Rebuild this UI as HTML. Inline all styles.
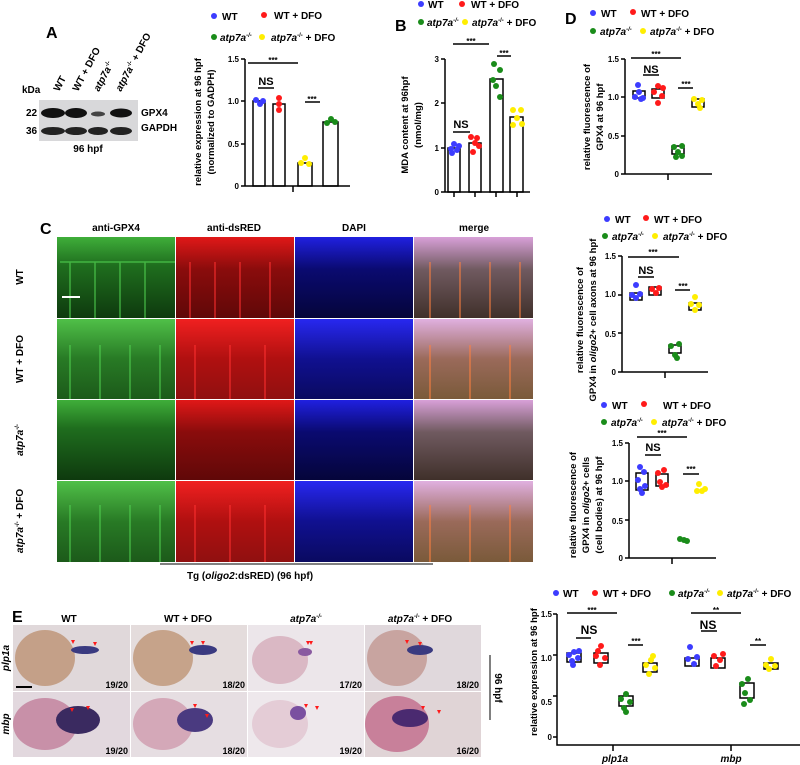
<!DOCTYPE html>
<html><head><meta charset="utf-8"><style>
body{margin:0;background:#fff}
svg{display:block;font-family:"Liberation Sans",Arial,sans-serif;font-weight:bold}
.t{font-size:10px}.s{font-size:8px}.L{font-size:16px}
</style></head><body>
<svg width="800" height="765" viewBox="0 0 800 765">
<defs>
<linearGradient id="gG" x1="0" y1="0" x2="0" y2="1"><stop offset="0" stop-color="#3fae3a"/><stop offset=".35" stop-color="#1f6e1e"/><stop offset="1" stop-color="#0e3a0e"/></linearGradient>
<linearGradient id="gR" x1="0" y1="0" x2="0" y2="1"><stop offset="0" stop-color="#e01818"/><stop offset=".4" stop-color="#8a0c0c"/><stop offset="1" stop-color="#600808"/></linearGradient>
<linearGradient id="gB" x1="0" y1="0" x2="0" y2="1"><stop offset="0" stop-color="#2020e0"/><stop offset=".4" stop-color="#0a0a70"/><stop offset="1" stop-color="#05053a"/></linearGradient>
<linearGradient id="gM" x1="0" y1="0" x2="0" y2="1"><stop offset="0" stop-color="#d8a0d8"/><stop offset=".4" stop-color="#705a60"/><stop offset="1" stop-color="#40302a"/></linearGradient>
<linearGradient id="gG2" x1="0" y1="0" x2="0" y2="1"><stop offset="0" stop-color="#50c048"/><stop offset=".5" stop-color="#287a25"/><stop offset="1" stop-color="#1c5a1a"/></linearGradient>
<linearGradient id="gR2" x1="0" y1="0" x2="0" y2="1"><stop offset="0" stop-color="#f02020"/><stop offset=".5" stop-color="#b01010"/><stop offset="1" stop-color="#901010"/></linearGradient>
<linearGradient id="gB2" x1="0" y1="0" x2="0" y2="1"><stop offset="0" stop-color="#2828f0"/><stop offset=".5" stop-color="#101090"/><stop offset="1" stop-color="#0a0a60"/></linearGradient>
<linearGradient id="gM2" x1="0" y1="0" x2="0" y2="1"><stop offset="0" stop-color="#e0b0e0"/><stop offset=".5" stop-color="#9a6a5a"/><stop offset="1" stop-color="#7a5a3a"/></linearGradient>
</defs>

<!-- Panel A western -->
<text x="46" y="38" class="L">A</text>
<text x="22" y="93" class="t">kDa</text>
<g class="t">
<text transform="translate(59,92) rotate(-62)">WT</text>
<text transform="translate(78,92) rotate(-62)">WT + DFO</text>
<text transform="translate(99,92) rotate(-62)"><tspan font-style="italic">atp7a</tspan><tspan font-size="6" dy="-4">-/-</tspan></text>
<text transform="translate(121,92) rotate(-62)"><tspan font-style="italic">atp7a</tspan><tspan font-size="6" dy="-4">-/-</tspan><tspan dy="4"> + DFO</tspan></text>
</g>
<rect x="39" y="100" width="99" height="41" fill="#d8d8da"/>
<ellipse cx="53" cy="113" rx="12" ry="5" fill="#111"/><ellipse cx="76" cy="113" rx="11" ry="5" fill="#111"/><ellipse cx="98" cy="114" rx="7" ry="2.5" fill="#444"/><ellipse cx="121" cy="113" rx="11" ry="4.5" fill="#111"/>
<ellipse cx="53" cy="131" rx="12" ry="4" fill="#222"/><ellipse cx="76" cy="131" rx="11" ry="4" fill="#222"/><ellipse cx="98" cy="131" rx="10" ry="4" fill="#222"/><ellipse cx="121" cy="131" rx="11" ry="4" fill="#222"/>
<text x="26" y="116" class="t">22</text><text x="26" y="134" class="t">36</text>
<text x="141" y="116" class="t">GPX4</text><text x="141" y="131" class="t">GAPDH</text>
<text x="88" y="152" class="t" text-anchor="middle">96 hpf</text>

<!-- Chart A -->
<g class="t">
<circle cx="214" cy="16" r="3" fill="#3c3cff"/><text x="222" y="20">WT</text>
<circle cx="264" cy="15" r="3" fill="#ff1a1a"/><text x="274" y="19">WT + DFO</text>
<circle cx="214" cy="37" r="3" fill="#1a8c1a"/><text x="220" y="41" font-style="italic">atp7a<tspan font-size="6" dy="-4">-/-</tspan></text>
<circle cx="262" cy="37" r="3" fill="#ffee00"/><text x="271" y="41"><tspan font-style="italic">atp7a</tspan><tspan font-size="6" dy="-4">-/-</tspan><tspan dy="4"> + DFO</tspan></text>
<text transform="translate(201,122) rotate(-90)" text-anchor="middle" font-size="9.5">relative expression at 96 hpf</text>
<text transform="translate(214,122) rotate(-90)" text-anchor="middle" font-size="9.5">(normalized to GADPH)</text>
</g>
<g class="s" text-anchor="end"><text x="239" y="62">1.5</text><text x="239" y="104">1.0</text><text x="239" y="147">0.5</text><text x="239" y="189">0</text></g>
<g stroke="#000" stroke-width="1.5" fill="none">
<path d="M245 59V186H350M241 59H245M241 101H245M241 144H245M241 186H245M293 186V192"/>
<rect x="253" y="101" width="12" height="85"/><rect x="273" y="104" width="12" height="82"/><rect x="298" y="163" width="14" height="23"/><rect x="323" y="122" width="15" height="64"/>
<path d="M248 63H298M258 88H274M305 102H320"/>
</g>
<text x="266" y="85" text-anchor="middle" font-size="11">NS</text>
<text x="273" y="63" text-anchor="middle" class="s">***</text><text x="312" y="102" text-anchor="middle" class="s">***</text>
<g fill="#3c3cff"><circle cx="256" cy="100" r="3"/><circle cx="260" cy="104" r="3"/><circle cx="263" cy="101" r="3"/></g>
<g fill="#ff1a1a"><circle cx="279" cy="98" r="3"/><circle cx="279" cy="104" r="3"/><circle cx="279" cy="110" r="3"/></g>
<g fill="#ffee00"><circle cx="301" cy="163" r="3"/><circle cx="305" cy="158" r="3"/><circle cx="309" cy="164" r="3"/></g>
<g fill="#1a8c1a"><circle cx="327" cy="123" r="3"/><circle cx="331" cy="119" r="3"/><circle cx="335" cy="122" r="3"/></g>

<!-- Chart B -->
<text x="395" y="31" class="L">B</text>
<g class="t">
<circle cx="421" cy="4" r="3" fill="#3c3cff"/><text x="428" y="8">WT</text>
<circle cx="462" cy="4" r="3" fill="#ff1a1a"/><text x="471" y="8">WT + DFO</text>
<circle cx="421" cy="22" r="3" fill="#1a8c1a"/><text x="427" y="26" font-style="italic">atp7a<tspan font-size="6" dy="-4">-/-</tspan></text>
<circle cx="465" cy="22" r="3" fill="#ffee00"/><text x="472" y="26"><tspan font-style="italic">atp7a</tspan><tspan font-size="6" dy="-4">-/-</tspan><tspan dy="4"> + DFO</tspan></text>
<text transform="translate(408,125) rotate(-90)" text-anchor="middle" font-size="9.5">MDA content at 96hpf</text>
<text transform="translate(421,125) rotate(-90)" text-anchor="middle" font-size="9.5">(nmol/mg)</text>
</g>
<g class="s" text-anchor="end"><text x="439" y="62">3</text><text x="439" y="106">2</text><text x="439" y="151">1</text><text x="439" y="195">0</text></g>
<g stroke="#000" stroke-width="1.5" fill="none">
<path d="M445 59V192H530M441 59H445M441 103H445M441 148H445M441 192H445M454 192V197M475 192V197M496 192V197M517 192V197"/>
<rect x="448" y="148" width="12" height="44"/><rect x="469" y="143" width="12" height="49"/><rect x="490" y="79" width="13" height="113"/><rect x="510" y="117" width="13" height="75"/>
<path d="M453 132H470M453 44H489M497 56H511"/>
</g>
<text x="461" y="128" text-anchor="middle" font-size="11">NS</text>
<text x="471" y="44" text-anchor="middle" class="s">***</text><text x="504" y="56" text-anchor="middle" class="s">***</text>
<g fill="#3c3cff"><circle cx="451" cy="149" r="3"/><circle cx="454" cy="144" r="3"/><circle cx="457" cy="150" r="3"/><circle cx="459" cy="146" r="3"/><circle cx="452" cy="153" r="3"/></g>
<g fill="#ff1a1a"><circle cx="471" cy="137" r="3"/><circle cx="477" cy="138" r="3"/><circle cx="475" cy="143" r="3"/><circle cx="473" cy="152" r="3"/><circle cx="479" cy="146" r="3"/></g>
<g fill="#1a8c1a"><circle cx="494" cy="64" r="3"/><circle cx="500" cy="70" r="3"/><circle cx="496" cy="86" r="3"/><circle cx="500" cy="97" r="3"/><circle cx="493" cy="80" r="3"/></g>
<g fill="#ffee00"><circle cx="513" cy="110" r="3"/><circle cx="521" cy="110" r="3"/><circle cx="517" cy="118" r="3"/><circle cx="513" cy="125" r="3"/><circle cx="522" cy="124" r="3"/></g>

<!-- Panel C -->
<text x="40" y="234" class="L">C</text>
<g class="t" text-anchor="middle"><text x="116" y="231">anti-GPX4</text><text x="234" y="231">anti-dsRED</text><text x="354" y="231">DAPI</text><text x="474" y="231">merge</text></g>
<g>
<rect x="57" y="237" width="118" height="81" fill="url(#gG)"/><rect x="176" y="237" width="118" height="81" fill="url(#gR)"/><rect x="295" y="237" width="118" height="81" fill="url(#gB)"/><rect x="414" y="237" width="119" height="81" fill="url(#gM)"/>
<rect x="57" y="319" width="118" height="80" fill="url(#gG2)"/><rect x="176" y="319" width="118" height="80" fill="url(#gR2)"/><rect x="295" y="319" width="118" height="80" fill="url(#gB2)"/><rect x="414" y="319" width="119" height="80" fill="url(#gM2)"/>
<rect x="57" y="400" width="118" height="80" fill="url(#gG)"/><rect x="176" y="400" width="118" height="80" fill="url(#gR)"/><rect x="295" y="400" width="118" height="80" fill="url(#gB)"/><rect x="414" y="400" width="119" height="80" fill="url(#gM)"/>
<rect x="57" y="481" width="118" height="81" fill="url(#gG2)"/><rect x="176" y="481" width="118" height="81" fill="url(#gR2)"/><rect x="295" y="481" width="118" height="81" fill="url(#gB2)"/><rect x="414" y="481" width="119" height="81" fill="url(#gM2)"/>
<g stroke-width="1.5" opacity=".7" fill="none">
<path stroke="#50d050" d="M70 262V318M95 262V318M120 262V318M145 262V318M60 262H175M70 345V399M100 345V399M130 345V399M160 345V399M70 505V562M100 505V562M130 505V562M160 505V562"/>
<path stroke="#ff3030" d="M190 262V318M215 262V318M240 262V318M270 262V318M195 345V399M230 345V399M265 345V399M195 505V562M230 505V562M265 505V562"/>
<path stroke="#ff8040" d="M430 262V318M460 262V318M490 262V318M520 262V318M430 345V399M470 345V399M510 345V399M430 505V562M470 505V562M510 505V562"/>
</g>
<path d="M62 297H80" stroke="#fff" stroke-width="2"/>
</g>
<g class="t" text-anchor="middle">
<text transform="translate(23,277) rotate(-90)">WT</text>
<text transform="translate(23,359) rotate(-90)">WT + DFO</text>
<text transform="translate(23,440) rotate(-90)"><tspan font-style="italic">atp7a</tspan><tspan font-size="6" dy="-4">-/-</tspan></text>
<text transform="translate(23,521) rotate(-90)"><tspan font-style="italic">atp7a</tspan><tspan font-size="6" dy="-4">-/-</tspan><tspan dy="4"> + DFO</tspan></text>
</g>
<path d="M160 564H433" stroke="#000" stroke-width="1"/>
<text x="250" y="579" class="t" text-anchor="middle">Tg (<tspan font-style="italic">oligo2</tspan>:dsRED) (96 hpf)</text>

<!-- Panel D charts -->
<text x="565" y="24" class="L">D</text>
<g class="t">
<circle cx="593" cy="13" r="3" fill="#3c3cff"/><text x="601" y="17">WT</text>
<circle cx="633" cy="12" r="3" fill="#ff1a1a"/><text x="641" y="17">WT + DFO</text>
<circle cx="593" cy="31" r="3" fill="#1a8c1a"/><text x="600" y="35" font-style="italic">atp7a<tspan font-size="6" dy="-4">-/-</tspan></text>
<circle cx="643" cy="31" r="3" fill="#ffee00"/><text x="650" y="35"><tspan font-style="italic">atp7a</tspan><tspan font-size="6" dy="-4">-/-</tspan><tspan dy="4"> + DFO</tspan></text>
<text transform="translate(590,117) rotate(-90)" text-anchor="middle" font-size="9.5">relative fluorescence of</text>
<text transform="translate(603,117) rotate(-90)" text-anchor="middle" font-size="9.5">GPX4 at 96 hpf</text>
</g>
<g class="s" text-anchor="end"><text x="619" y="62">1.5</text><text x="619" y="100">1.0</text><text x="619" y="139">0.5</text><text x="619" y="177">0</text></g>
<g stroke="#000" stroke-width="1.5" fill="none"><path d="M625 59V174H712M621 59H625M621 97H625M621 136H625M621 174H625M668 174V180M631 58H681M643 75H659M678 88H693"/>
<rect x="633" y="91" width="12" height="7"/><rect x="652" y="89" width="12" height="9"/><rect x="672" y="146" width="12" height="8"/><rect x="692" y="99" width="12" height="8"/></g>
<text x="651" y="73" text-anchor="middle" font-size="11">NS</text><text x="656" y="57" text-anchor="middle" class="s">***</text><text x="686" y="87" text-anchor="middle" class="s">***</text>
<g fill="#3c3cff"><circle cx="635" cy="97" r="3"/><circle cx="639" cy="92" r="3"/><circle cx="643" cy="98" r="3"/><circle cx="638" cy="85" r="3"/><circle cx="641" cy="99" r="3"/></g>
<g fill="#ff1a1a"><circle cx="654" cy="92" r="3"/><circle cx="658" cy="86" r="3"/><circle cx="662" cy="96" r="3"/><circle cx="658" cy="103" r="3"/><circle cx="663" cy="88" r="3"/></g>
<g fill="#1a8c1a"><circle cx="674" cy="147" r="3"/><circle cx="678" cy="152" r="3"/><circle cx="682" cy="146" r="3"/><circle cx="676" cy="157" r="3"/><circle cx="682" cy="156" r="3"/></g>
<g fill="#ffee00"><circle cx="694" cy="99" r="3"/><circle cx="698" cy="104" r="3"/><circle cx="702" cy="100" r="3"/><circle cx="700" cy="108" r="3"/></g>

<!-- D2 -->
<g class="t">
<circle cx="607" cy="219" r="3" fill="#3c3cff"/><text x="615" y="223">WT</text>
<circle cx="646" cy="218" r="3" fill="#ff1a1a"/><text x="654" y="223">WT + DFO</text>
<circle cx="605" cy="236" r="3" fill="#1a8c1a"/><text x="612" y="240" font-style="italic">atp7a<tspan font-size="6" dy="-4">-/-</tspan></text>
<circle cx="655" cy="236" r="3" fill="#ffee00"/><text x="663" y="240"><tspan font-style="italic">atp7a</tspan><tspan font-size="6" dy="-4">-/-</tspan><tspan dy="4"> + DFO</tspan></text>
<text transform="translate(583,320) rotate(-90)" text-anchor="middle" font-size="9.5">relative fluorescence of</text>
<text transform="translate(596,320) rotate(-90)" text-anchor="middle" font-size="9.5">GPX4 in <tspan font-style="italic">oligo2</tspan>+ cell axons at 96 hpf</text>
</g>
<g class="s" text-anchor="end"><text x="616" y="259">1.5</text><text x="616" y="297">1.0</text><text x="616" y="337">0.5</text><text x="616" y="375">0</text></g>
<g stroke="#000" stroke-width="1.5" fill="none"><path d="M622 256V372H708M618 256H622M618 295H622M618 333H622M618 372H622M665 372V378M628 257H679M638 277H654M675 290H690"/>
<rect x="630" y="293" width="12" height="7"/><rect x="649" y="287" width="12" height="8"/><rect x="669" y="345" width="12" height="8"/><rect x="689" y="303" width="12" height="7"/></g>
<text x="646" y="274" text-anchor="middle" font-size="11">NS</text><text x="653" y="255" text-anchor="middle" class="s">***</text><text x="683" y="289" text-anchor="middle" class="s">***</text>
<g fill="#3c3cff"><circle cx="632" cy="295" r="3"/><circle cx="636" cy="298" r="3"/><circle cx="640" cy="294" r="3"/><circle cx="636" cy="285" r="3"/></g>
<g fill="#ff1a1a"><circle cx="652" cy="289" r="3"/><circle cx="656" cy="293" r="3"/><circle cx="659" cy="288" r="3"/></g>
<g fill="#1a8c1a"><circle cx="671" cy="346" r="3"/><circle cx="675" cy="355" r="3"/><circle cx="679" cy="344" r="3"/><circle cx="677" cy="358" r="3"/></g>
<g fill="#ffee00"><circle cx="691" cy="304" r="3"/><circle cx="695" cy="297" r="3"/><circle cx="699" cy="305" r="3"/><circle cx="695" cy="310" r="3"/></g>

<!-- D3 -->
<g class="t">
<circle cx="604" cy="405" r="3" fill="#3c3cff"/><text x="612" y="409">WT</text>
<circle cx="644" cy="404" r="3" fill="#ff1a1a"/><text x="663" y="409">WT + DFO</text>
<circle cx="604" cy="422" r="3" fill="#1a8c1a"/><text x="611" y="426" font-style="italic">atp7a<tspan font-size="6" dy="-4">-/-</tspan></text>
<circle cx="654" cy="422" r="3" fill="#ffee00"/><text x="662" y="426"><tspan font-style="italic">atp7a</tspan><tspan font-size="6" dy="-4">-/-</tspan><tspan dy="4"> + DFO</tspan></text>
<text transform="translate(576,505) rotate(-90)" text-anchor="middle" font-size="9.5">relative fluorescence of</text>
<text transform="translate(589,505) rotate(-90)" text-anchor="middle" font-size="9.5">GPX4 in <tspan font-style="italic">oligo2</tspan>+ cells</text>
<text transform="translate(602,505) rotate(-90)" text-anchor="middle" font-size="9.5">(cell bodies) at 96 hpf</text>
</g>
<g class="s" text-anchor="end"><text x="623" y="446">1.5</text><text x="623" y="484">1.0</text><text x="623" y="524">0.5</text><text x="623" y="561">0</text></g>
<g stroke="#000" stroke-width="1.5" fill="none"><path d="M629 443V558H716M625 443H629M625 481H629M625 520H629M625 558H629M672 558V564M637 437H687M645 455H661M683 474H699"/>
<rect x="636" y="473" width="12" height="17"/><rect x="656" y="474" width="12" height="12"/></g>
<text x="653" y="451" text-anchor="middle" font-size="11">NS</text><text x="662" y="436" text-anchor="middle" class="s">***</text><text x="691" y="472" text-anchor="middle" class="s">***</text>
<g fill="#3c3cff"><circle cx="640" cy="467" r="3"/><circle cx="644" cy="472" r="3"/><circle cx="638" cy="480" r="3"/><circle cx="645" cy="486" r="3"/><circle cx="642" cy="493" r="3"/><circle cx="640" cy="489" r="3"/></g>
<g fill="#ff1a1a"><circle cx="658" cy="473" r="3"/><circle cx="664" cy="470" r="3"/><circle cx="660" cy="482" r="3"/><circle cx="666" cy="485" r="3"/><circle cx="662" cy="487" r="3"/></g>
<g fill="#1a8c1a"><circle cx="680" cy="539" r="3"/><circle cx="684" cy="540" r="3"/><circle cx="687" cy="541" r="3"/></g>
<g fill="#ffee00"><circle cx="699" cy="484" r="3"/><circle cx="697" cy="491" r="3"/><circle cx="702" cy="491" r="3"/><circle cx="705" cy="489" r="3"/></g>

<!-- Panel E images -->
<text x="12" y="622" class="L">E</text>
<g class="t" text-anchor="middle"><text x="69" y="622">WT</text><text x="188" y="622">WT + DFO</text><text x="306" y="622" font-style="italic">atp7a<tspan font-size="6" dy="-4">-/-</tspan></text><text x="420" y="622"><tspan font-style="italic">atp7a</tspan><tspan font-size="6" dy="-4">-/-</tspan><tspan dy="4"> + DFO</tspan></text></g>
<g>
<rect x="13" y="625" width="117" height="66" fill="#e0d8da"/><rect x="131" y="625" width="116" height="66" fill="#e4dcdc"/><rect x="248" y="625" width="116" height="66" fill="#ece6ea"/><rect x="365" y="625" width="116" height="66" fill="#e0d8dc"/>
<rect x="13" y="692" width="117" height="65" fill="#e2d8de"/><rect x="131" y="692" width="116" height="65" fill="#e6dee2"/><rect x="248" y="692" width="116" height="65" fill="#eee8ec"/><rect x="365" y="692" width="116" height="65" fill="#e0d4d6"/>
<ellipse cx="45" cy="658" rx="30" ry="28" fill="#c4a088"/><ellipse cx="163" cy="658" rx="30" ry="28" fill="#c6a38a"/><ellipse cx="280" cy="660" rx="28" ry="24" fill="#dab8c4"/><ellipse cx="397" cy="658" rx="30" ry="28" fill="#c8a4a0"/>
<ellipse cx="45" cy="724" rx="32" ry="26" fill="#c890a8"/><ellipse cx="163" cy="724" rx="30" ry="26" fill="#d4a8b8"/><ellipse cx="280" cy="724" rx="28" ry="24" fill="#e4ccd6"/><ellipse cx="397" cy="724" rx="32" ry="28" fill="#c8809a"/>
<g fill="#3a3a80"><ellipse cx="85" cy="650" rx="14" ry="4"/><ellipse cx="203" cy="650" rx="14" ry="5"/><ellipse cx="305" cy="652" rx="7" ry="4" fill="#8a5aa0"/><ellipse cx="420" cy="650" rx="13" ry="5"/>
<ellipse cx="78" cy="720" rx="22" ry="14" fill="#3a2a60"/><ellipse cx="195" cy="720" rx="18" ry="12" fill="#4a3a80"/><ellipse cx="298" cy="713" rx="8" ry="7" fill="#7a50a0"/><ellipse cx="410" cy="718" rx="18" ry="9" fill="#4a2a70"/></g>
<g fill="#ff1a1a"><path d="M71 640l4 0-2 4zM93 642l4 0-2 4zM190 641l4 0-2 4zM201 641l4 0-2 4zM306 641l4 0-2 4zM309 641l4 0-2 4zM405 640l4 0-2 4zM418 642l4 0-2 4zM70 708l4 0-2 4zM86 706l4 0-2 4zM193 704l4 0-2 4zM205 714l4 0-2 4zM304 704l4 0-2 4zM315 706l4 0-2 4zM421 706l4 0-2 4zM437 710l4 0-2 4z"/></g>
<path d="M16 687H32" stroke="#000" stroke-width="2"/>
<g font-size="9" text-anchor="end"><text x="128" y="688">19/20</text><text x="245" y="688">18/20</text><text x="362" y="688">17/20</text><text x="479" y="688">18/20</text>
<text x="128" y="754">19/20</text><text x="245" y="754">18/20</text><text x="362" y="754">19/20</text><text x="479" y="754">16/20</text></g>
</g>
<g class="t" text-anchor="middle" font-style="italic"><text transform="translate(9,658) rotate(-90)">plp1a</text><text transform="translate(9,724) rotate(-90)">mbp</text></g>
<path d="M490 655V720" stroke="#000"/>
<text transform="translate(495,688) rotate(90)" class="t" text-anchor="middle">96 hpf</text>

<!-- E chart -->
<g class="t">
<circle cx="556" cy="593" r="3" fill="#3c3cff"/><text x="563" y="597">WT</text>
<circle cx="595" cy="593" r="3" fill="#ff1a1a"/><text x="603" y="597">WT + DFO</text>
<circle cx="672" cy="593" r="3" fill="#1a8c1a"/><text x="678" y="597" font-style="italic">atp7a<tspan font-size="6" dy="-4">-/-</tspan></text>
<circle cx="720" cy="593" r="3" fill="#ffee00"/><text x="727" y="597"><tspan font-style="italic">atp7a</tspan><tspan font-size="6" dy="-4">-/-</tspan><tspan dy="4"> + DFO</tspan></text>
<text transform="translate(537,672) rotate(-90)" text-anchor="middle" font-size="9.5">relative expression at 96 hpf</text>
</g>
<g class="s" text-anchor="end"><text x="552" y="617">1.5</text><text x="552" y="661">1.0</text><text x="552" y="705">0.5</text><text x="552" y="740">0</text></g>
<g stroke="#000" stroke-width="1.5" fill="none"><path d="M557 614V745H800M553 614H557M553 655H557M553 696H557M553 737H557M613 745V751M731 745V751M567 613H617M576 638H591M628 645H643M691 613H741M701 631H717M750 645H766"/>
<rect x="567" y="653" width="14" height="9"/><rect x="594" y="653" width="14" height="10"/><rect x="619" y="696" width="14" height="10"/><rect x="643" y="663" width="14" height="9"/>
<rect x="685" y="658" width="14" height="8"/><rect x="711" y="658" width="14" height="10"/><rect x="740" y="683" width="14" height="15"/><rect x="764" y="663" width="14" height="6"/></g>
<text x="589" y="634" text-anchor="middle" font-size="12">NS</text><text x="708" y="629" text-anchor="middle" font-size="12">NS</text>
<g class="s" text-anchor="middle"><text x="592" y="613">***</text><text x="636" y="644">***</text><text x="716" y="613">**</text><text x="758" y="644">**</text></g>
<g fill="#3c3cff"><circle cx="569" cy="655" r="3"/><circle cx="574" cy="652" r="3"/><circle cx="578" cy="658" r="3"/><circle cx="572" cy="661" r="3"/><circle cx="579" cy="651" r="3"/><circle cx="573" cy="665" r="3"/><circle cx="690" cy="647" r="3"/><circle cx="688" cy="659" r="3"/><circle cx="694" cy="664" r="3"/><circle cx="697" cy="657" r="3"/></g>
<g fill="#ff1a1a"><circle cx="596" cy="656" r="3"/><circle cx="601" cy="646" r="3"/><circle cx="605" cy="658" r="3"/><circle cx="600" cy="665" r="3"/><circle cx="598" cy="651" r="3"/><circle cx="714" cy="656" r="3"/><circle cx="720" cy="660" r="3"/><circle cx="716" cy="666" r="3"/><circle cx="723" cy="654" r="3"/></g>
<g fill="#1a8c1a"><circle cx="621" cy="699" r="3"/><circle cx="626" cy="694" r="3"/><circle cx="630" cy="702" r="3"/><circle cx="624" cy="708" r="3"/><circle cx="626" cy="712" r="3"/><circle cx="742" cy="684" r="3"/><circle cx="748" cy="679" r="3"/><circle cx="745" cy="693" r="3"/><circle cx="750" cy="700" r="3"/><circle cx="744" cy="704" r="3"/></g>
<g fill="#ffee00"><circle cx="646" cy="665" r="3"/><circle cx="651" cy="660" r="3"/><circle cx="655" cy="668" r="3"/><circle cx="649" cy="674" r="3"/><circle cx="653" cy="656" r="3"/><circle cx="766" cy="665" r="3"/><circle cx="771" cy="659" r="3"/><circle cx="775" cy="666" r="3"/><circle cx="769" cy="669" r="3"/></g>
<g class="t" font-style="italic" text-anchor="middle"><text x="615" y="762">plp1a</text><text x="731" y="762">mbp</text></g>
</svg>
</body></html>
